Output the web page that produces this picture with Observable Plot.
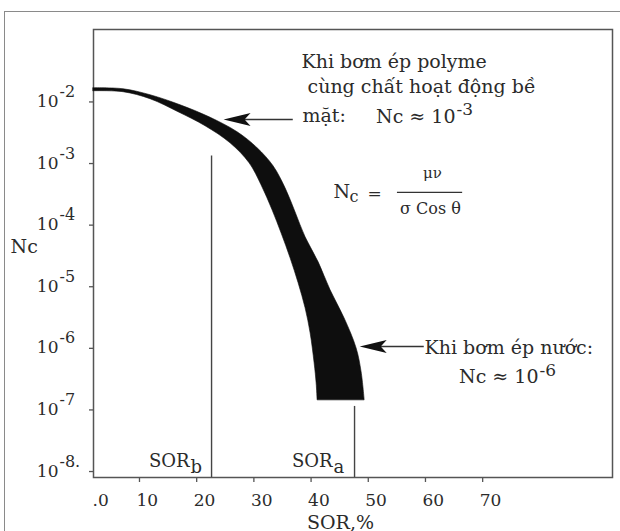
<!DOCTYPE html>
<html>
<head>
<meta charset="utf-8">
<script src="https://cdn.jsdelivr.net/npm/d3@7"></script>
<script src="https://cdn.jsdelivr.net/npm/@observablehq/plot@0.6"></script>
<style>
  html, body { margin: 0; padding: 0; background: #fff; overflow: hidden; }
  #wrap { position: relative; width: 620px; height: 531px; }
  #border { position: absolute; left: 4px; top: 11px; width: 700px; height: 700px;
            border-left: 1.5px solid #8a8a8a; border-top: 1.5px solid #8a8a8a; pointer-events: none; }
</style>
</head>
<body>
<div id="wrap"><div id="border"></div></div>
<script>
// ---- data ----
// Band (outer / upper-right edge and inner / lower-left edge), SOR % vs Nc
const sorOuter = [1.96, 7.21, 11.93, 17.18, 22.25, 27.15, 30.65, 33.44, 35.54, 37.29, 39.04, 41.32, 43.41, 45.86, 47.96, 48.84, 49.37];
const ncOuter  = [0.01671, 0.01607, 0.01285, 0.00883, 0.00564, 0.00322, 0.00177, 0.000902, 0.000396, 0.000161, 6.34e-5, 2.49e-5, 8.73e-6, 3.06e-6, 9.98e-7, 4.06e-7, 1.43e-7];
const sorInner = [1.96, 7.21, 11.93, 16.83, 21.55, 25.92, 29.25, 31.34, 33.27, 34.84, 36.42, 37.82, 39.04, 39.92, 40.62, 40.97, 41.14];
const ncInner  = [0.01493, 0.01439, 0.01107, 0.00681, 0.00403, 0.00213, 0.00101, 0.000444, 0.000174, 7.36e-5, 2.89e-5, 1.14e-5, 4.46e-6, 1.75e-6, 5.70e-7, 2.70e-7, 1.43e-7];

// vertical SOR lines
const sorLineNames = ["b", "a"];
const sorLineX     = [22.6, 47.6];
const sorLineTop   = [1.33e-3, 1.14e-7];

// axes
const xDomain = [1.96, 92.7];
const yDomain = [8.0e-9, 0.15];
const xTicks = [10, 20, 30, 40, 50, 60, 70];
const xTickLabels = ["10", "20", "30", "40", "50", "60", "70"];
const xStartLabel = ".0";
const yTicks = [1e-2, 1e-3, 1e-4, 1e-5, 1e-6, 1e-7, 1e-8];
const yTickExp = ["-2", "-3", "-4", "-5", "-6", "-7", "-8."];

// annotation arrows (tip / tail) and fraction bar
const arrowTipX  = [24.7, 48.5];
const arrowTailX = [36.8, 59.7];
const arrowY     = [5.2e-3, 1.07e-6];
const fracBar = {x1: 55.1, x2: 66.5, y: 3.41e-4};

// ---- build ----
const band = sorOuter.map((d, i) => ({xo: d, yo: ncOuter[i], xi: sorInner[i], yi: ncInner[i]}));
const sorLines = sorLineNames.map((n, i) => ({name: n, x: sorLineX[i], top: sorLineTop[i]}));
const arrows = arrowTipX.map((d, i) => ({tip: d, tail: arrowTailX[i], y: arrowY[i]}));

const ML = 93, MT = 29, MR = 8, MB = 54;
const FONT = "DejaVu Serif";
const INK = "#2b2b2b";

const arrowHead = {
  draw(ctx) {
    ctx.moveTo(0, 0);
    ctx.lineTo(27, -6.5);
    ctx.lineTo(21, 0);
    ctx.lineTo(27, 6.5);
    ctx.closePath();
  }
};

function label(text, px, py, o = {}) {
  return Plot.text([text], {
    frameAnchor: "top-left", dx: px - ML, dy: py - MT,
    textAnchor: o.anchor || "start", lineAnchor: "bottom",
    fontSize: o.size || 19, fontFamily: FONT, fill: INK
  });
}

const plot = Plot.plot({
  width: 620, height: 531,
  marginLeft: ML, marginTop: MT, marginRight: MR, marginBottom: MB,
  style: {fontFamily: FONT, background: "transparent"},
  x: {domain: xDomain, type: "linear"},
  y: {domain: yDomain, type: "log"},
  marks: [
    Plot.frame({stroke: "#555", strokeWidth: 1.5}),
    Plot.axisX({ticks: xTicks, tickSize: 5, tickFormat: () => "", stroke: "#555", strokeWidth: 1.3}),
    Plot.axisY({ticks: yTicks, tickSize: 4, tickFormat: () => "", stroke: "#555", strokeWidth: 1.3}),
    // x tick labels
    Plot.text(xTicks, {x: d => d, text: (d, i) => xTickLabels[i], frameAnchor: "bottom",
      textAnchor: "start", lineAnchor: "bottom", dx: -3, dy: 28, fontSize: 17, fontFamily: FONT, fill: INK}),
    Plot.text([xStartLabel], {frameAnchor: "bottom-left", textAnchor: "start", lineAnchor: "bottom",
      dx: -1, dy: 28, fontSize: 17, fontFamily: FONT, fill: INK}),
    // y tick labels 10^n
    Plot.text(yTicks, {y: d => d, text: () => "10", frameAnchor: "left", textAnchor: "end",
      lineAnchor: "bottom", dx: -35, dy: 5, fontSize: 17, fontFamily: FONT, fill: INK}),
    Plot.text(yTicks, {y: d => d, text: (d, i) => yTickExp[i], frameAnchor: "left", textAnchor: "start",
      lineAnchor: "bottom", dx: -34, dy: -5, fontSize: 16, fontFamily: FONT, fill: INK}),
    // SOR vertical lines
    Plot.ruleX(sorLines, {x: "x", y1: "top", y2: yDomain[0], stroke: "#444", strokeWidth: 1.4}),
    Plot.text(sorLines, {x: "x", text: () => "SOR", frameAnchor: "bottom", textAnchor: "end",
      lineAnchor: "bottom", dx: -22, dy: -11, fontSize: 18, fontFamily: FONT, fill: INK}),
    Plot.text(sorLines, {x: "x", text: "name", frameAnchor: "bottom", textAnchor: "start",
      lineAnchor: "bottom", dx: -21, dy: -5, fontSize: 18, fontFamily: FONT, fill: INK}),
    // the band
    Plot.area(band, {x1: "xi", y1: "yi", x2: "xo", y2: "yo", fill: "#0e0e0e", stroke: "#0e0e0e",
      strokeWidth: 0.6, curve: "catmull-rom"}),
    // arrows
    Plot.link(arrows, {x1: d => d.tip + 3, x2: "tail", y1: "y", y2: "y", stroke: "#333", strokeWidth: 1.4}),
    Plot.dot(arrows, {x: "tip", y: "y", symbol: arrowHead, fill: "#111", stroke: "none"}),
    // axis titles
    label("Nc", 10, 252, {size: 19}),
    label("SOR,%", 340, 528, {size: 19, anchor: "middle"}),
    // polymer annotation
    label("Khi bơm ép polyme", 301, 67),
    label("cùng chất hoạt động bề", 307, 92),
    label("mặt:", 302, 121),
    label("Nc ≈ 10", 455, 122, {anchor: "end"}),
    label("-3", 456, 114, {size: 17}),
    // formula
    label("N", 333, 197, {size: 19}),
    label("c", 349, 201, {size: 16}),
    label("=", 367, 198, {size: 17}),
    label("μν", 432, 177, {size: 15, anchor: "middle"}),
    Plot.ruleY([fracBar], {y: "y", x1: "x1", x2: "x2", stroke: "#333", strokeWidth: 1.3}),
    label("σ Cos θ", 430, 213, {size: 16, anchor: "middle"}),
    // water annotation
    label("Khi bơm ép nước:", 424, 353),
    label("Nc ≈ 10", 538, 382, {anchor: "end"}),
    label("-6", 539, 375, {size: 17})
  ]
});

document.getElementById("wrap").prepend(plot);
</script>
</body>
</html>
